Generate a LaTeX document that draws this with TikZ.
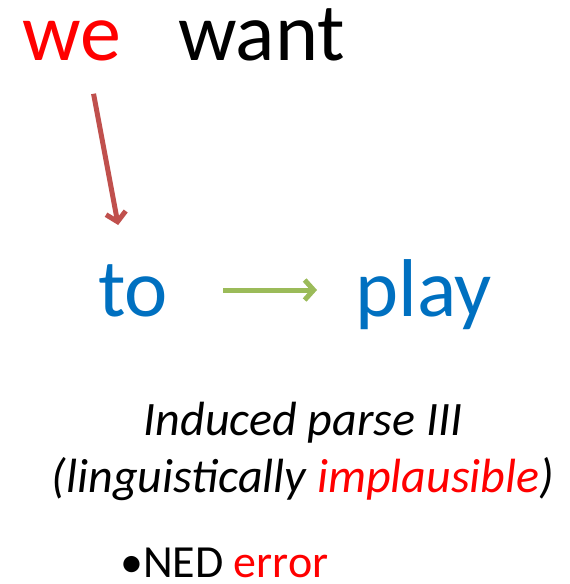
\documentclass[tikz,border=0pt]{standalone}
\usepackage{fontspec}
\setmainfont{Carlito}
\usetikzlibrary{arrows.meta}
\definecolor{wordred}{HTML}{FF0000}
\definecolor{wordblue}{HTML}{0070C0}
\definecolor{arcred}{HTML}{C0504D}
\definecolor{arcgreen}{HTML}{9BBB59}
\tikzset{
  word/.style={inner sep=0pt,anchor=base west,font=\fontsize{82}{96}\selectfont},
  note/.style={inner sep=0pt,anchor=base,font=\fontsize{48}{56}\selectfont},
  arc/.style={line width=5pt,-{Straight Barb[length=9pt,width=20pt]}}
}
\begin{document}
\begin{tikzpicture}[x=1pt,y=-1pt]
  \useasboundingbox (0,0) rectangle (570,584);
  \node[word,wordred](we) at (22,60) {we};
  \node[word](want) at (178,60) {want};
  \node[word,wordblue](to) at (98,316) {to};
  \node[word,wordblue](play) at (355,316) {play};
  \node[note](induced) at (303,435) {\itshape Induced parse III};
  \node[note](plaus) at (303,492) {\itshape (linguistically \textcolor{wordred}{implausible})};
  \node[note,anchor=base west,font=\fontsize{46}{54}\selectfont](ned) at (120,577) {\textbullet NED \textcolor{wordred}{error}};
  \draw[arc,arcred] ([shift={(22,33)}]we.south) -- ([shift={(-15,-91)}]to.base);
  \draw[arc,arcgreen] ([shift={(55,-26)}]to.base east) -- ([shift={(-38,-26)}]play.base west);
\end{tikzpicture}
\end{document}
